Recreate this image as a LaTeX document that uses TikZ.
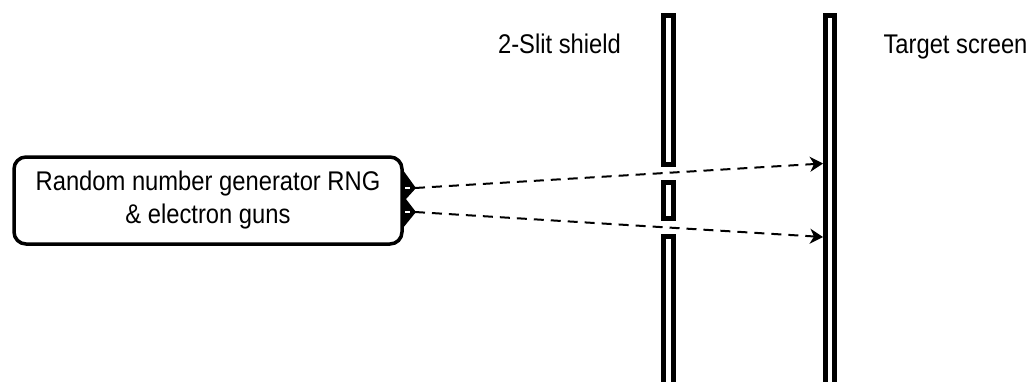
\documentclass[tikz,border=0pt]{standalone}
\usepackage{fontspec}
\setmainfont{Liberation Sans}[FakeStretch=0.88]
\usetikzlibrary{arrows.meta}

\begin{document}
\begin{tikzpicture}[x=1pt,y=-1pt,
  wall/.style={line width=5pt},
  beam/.style={line width=2pt, dash pattern=on 10pt off 7pt,
    -{Stealth[length=13pt,width=15pt,inset=4pt]}},
  lbl/.style={font=\fontsize{27}{33}\selectfont, inner sep=0pt}]

\useasboundingbox (0,0) rectangle (1032,381);

% -------------------------------------------------
% Source (RNG box)
% -------------------------------------------------
\node[lbl, draw, line width=3.5pt, rounded corners=12pt,
  minimum width=388pt, minimum height=87pt, align=center]
  (rng) at (208,200.5) {Random number generator RNG\\ \& electron guns};

% -------------------------------------------------
% Guns (nozzles)
% -------------------------------------------------
\draw[line width=1.5pt, fill=black] (402,170) -- (415,188) -- (405,199)
  -- (415,212) -- (402,228) -- cycle;
\foreach \y in {188,212}
  \draw[white, line width=1.5pt] (405,\y) -- (410,\y);

\coordinate (gunA) at (415,188);
\coordinate (gunB) at (415,212);

% -------------------------------------------------
% Shield with 2 slits
% -------------------------------------------------
\draw[wall] (663.5,15.5) rectangle (673.5,164.5);
\draw[wall] (663.5,182.5) rectangle (673.5,218.5);
\draw[wall] (663.5,236.5) rectangle (673.5,400);

% -------------------------------------------------
% Target screen
% -------------------------------------------------
\draw[wall] (825.5,15.5) rectangle (834.5,400);

\coordinate (hitA) at (823,163.5);
\coordinate (hitB) at (823,237);

% -------------------------------------------------
% Beams
% -------------------------------------------------
\draw[beam] (gunA) -- (hitA);
\draw[beam] (gunB) -- (hitB);

% -------------------------------------------------
% Labels
% -------------------------------------------------
\node[lbl, anchor=base] (slitlabel) at (559.5,53) {2-Slit shield};
\node[lbl, anchor=base] (screenlabel) at (955.5,53) {Target screen};

\end{tikzpicture}
\end{document}
